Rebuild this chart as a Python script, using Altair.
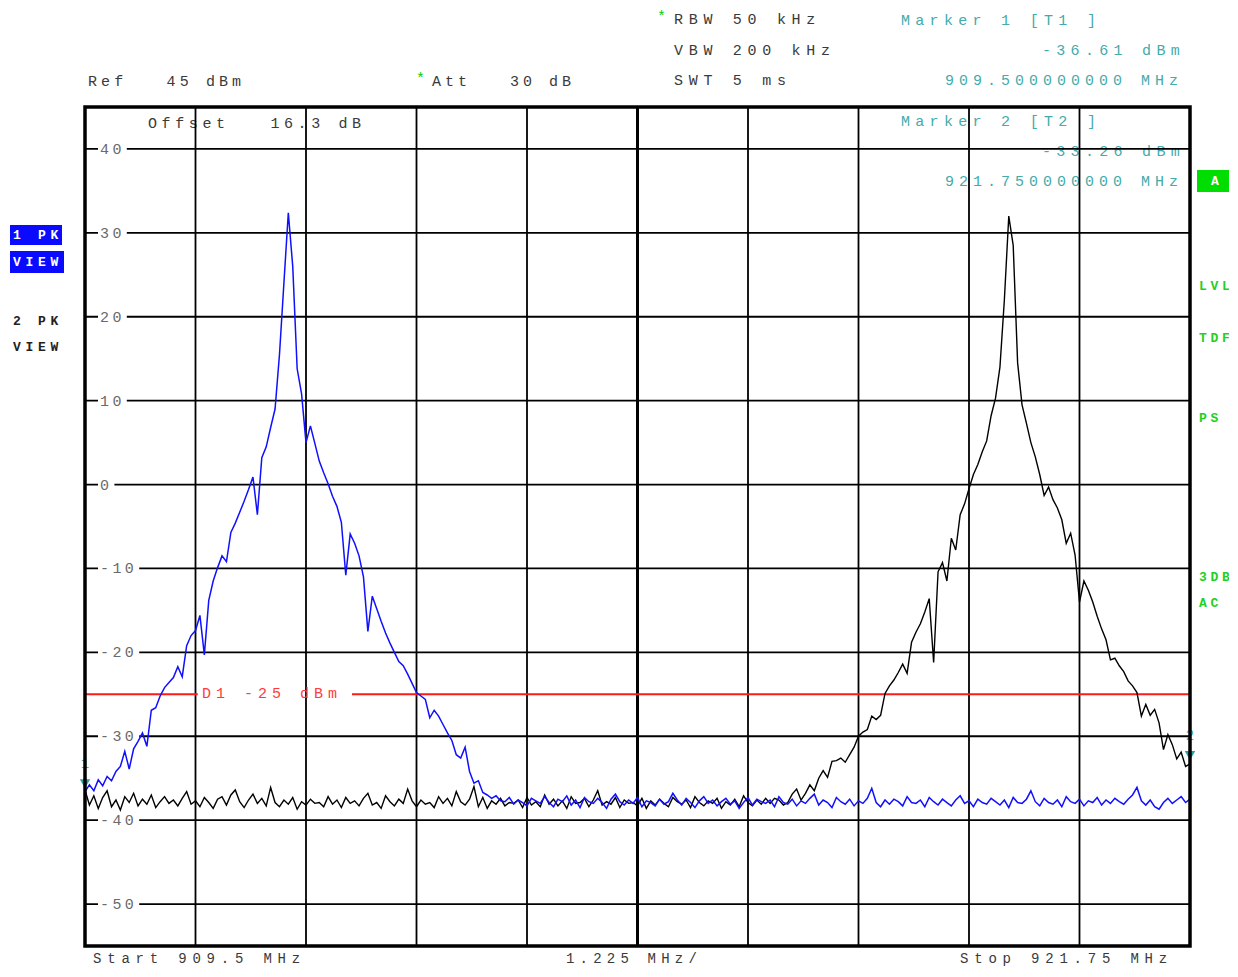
import altair as alt
import pandas as pd

# ---------------- data ----------------
F_START = 909.5
F_STOP = 921.75
F_DIV = 1.225
REF_DBM = 45
BOTTOM_DBM = -55
DISPLAY_LINE = -25

# trace 1 (blue), 251 sweep points, dBm
blue_db = [
    -36.6, -35.8, -36.5, -35.2, -35.9, -34.8, -35.3, -34.2, -33.6, -31.8,
    -33.9, -31.5, -30.6, -29.6, -31.2, -26.9, -26.6, -25.2, -24.2, -23.6,
    -23.0, -21.7, -22.9, -19.2, -18.0, -17.4, -15.6, -20.3, -13.8, -11.5,
    -9.9, -8.5, -9.2, -5.7, -4.6, -3.3, -2.0, -0.6, 0.9, -3.6,
    3.2, 4.5, 6.8, 9.0, 15.5, 24.0, 32.4, 26.0, 13.8, 10.8,
    5.0, 7.0, 4.9, 2.8, 1.4, 0.1, -1.4, -2.6, -4.5, -10.8,
    -5.9, -7.0, -8.5, -11.0, -17.5, -13.3, -14.8, -16.3, -17.7, -18.9,
    -20.0, -21.1, -21.6, -22.6, -23.7, -24.8, -25.2, -25.6, -27.8, -26.9,
    -27.6, -28.6, -29.6, -30.5, -32.2, -32.6, -31.3, -34.2, -35.6, -35.3,
    -36.7, -37.0, -37.4, -37.1, -37.7,
    -37.8, -37.3, -38.1, -37.6, -37.9, -38.3, -37.4, -37.7, -38.0, -37.2,
    -37.9, -38.4, -37.5, -37.8, -37.1, -38.2, -37.6, -38.5, -37.3, -37.8,
    -38.0, -37.4, -37.9, -38.6, -37.5, -36.9, -37.8, -38.2, -37.6, -38.0,
    -37.3, -38.4, -37.7, -37.9, -38.3, -37.5, -38.1, -37.8, -36.8, -37.6,
    -38.2, -37.4, -37.9, -38.5, -37.7, -37.2, -38.0, -37.6, -38.3, -37.8,
    -37.4, -38.1, -37.7, -38.6, -37.9, -37.3, -38.2, -37.5, -37.8, -38.0,
    -37.6, -38.4, -37.2, -37.9, -38.1, -37.5, -38.3, -37.7, -38.0, -37.4,
    -36.9, -38.2, -37.6, -37.9, -38.5, -37.3, -37.8, -38.1, -37.5, -38.3,
    -37.7, -38.0, -37.4, -36.2, -37.9, -38.4, -37.6, -38.1, -37.5, -37.8,
    -38.3, -37.2, -37.9, -38.0, -37.6, -38.4, -37.3, -37.8, -38.2, -37.5,
    -37.9, -38.3, -37.6, -37.1, -38.0, -37.7, -38.4, -37.5, -37.9, -38.1,
    -37.4, -37.8, -38.2, -37.6, -38.5, -37.3, -37.9, -38.0, -37.5, -36.5,
    -37.8, -38.3, -37.4, -37.9, -38.1, -37.6, -38.4, -37.2, -37.8, -38.0,
    -37.5, -38.3, -37.7, -37.9, -37.3, -38.2, -37.6, -38.0, -37.4, -37.8,
    -38.1, -37.5, -37.0, -36.1, -37.7, -38.2, -37.6, -38.4, -38.7, -37.9,
    -37.4, -38.0, -37.6, -37.2, -37.9, -37.5,
]

# trace 2 (black), 251 sweep points, dBm
black_db = [
    -36.4, -38.2, -37.1, -38.6, -37.3, -36.5, -38.4, -37.6, -38.8, -37.2,
    -37.9, -36.8, -38.3, -37.5, -38.1, -37.0, -38.5, -37.8, -37.2, -38.0,
    -37.6, -38.3, -37.4, -36.6, -38.1, -37.7, -38.4, -37.3, -37.9, -38.6,
    -37.5, -37.2, -38.2, -37.0, -36.4, -37.8, -38.5, -37.6, -36.9, -38.0,
    -37.4, -38.3, -36.1, -37.9, -38.4, -37.6, -38.1, -37.3, -38.7, -37.8,
    -38.2, -37.5, -38.0, -37.9, -38.4, -37.2, -38.1, -37.6, -38.5, -37.3,
    -38.0, -37.7, -38.3, -37.4, -36.8, -38.2, -37.9, -38.6, -37.1, -37.8,
    -38.3, -37.5, -38.0, -36.3, -37.7, -38.4, -37.6, -38.1, -37.9, -38.5,
    -37.2, -38.0, -37.4, -38.3, -36.6, -37.8, -38.2, -37.5, -36.0, -38.4,
    -37.3, -38.6, -37.7, -38.1, -37.4, -38.3, -37.9, -38.0, -37.6, -38.5,
    -37.3, -38.2, -37.8, -38.4, -37.0, -38.1, -37.5, -38.3, -37.7, -38.6,
    -37.2, -38.0, -37.9, -37.4, -38.4, -37.6, -36.5, -38.2, -37.8, -38.1,
    -37.3, -38.5, -37.6, -38.0, -37.9, -38.3, -37.4, -38.6, -37.7, -38.2,
    -37.5, -38.0, -38.4, -37.3, -37.8, -38.1, -37.6, -38.5, -37.2, -37.9,
    -38.3, -37.7, -38.0, -37.4, -38.6, -37.8, -38.2, -37.5, -38.4, -37.1,
    -37.9, -38.3, -37.6, -38.1, -37.4,
    -38.0, -37.4, -37.6, -38.2, -37.9, -36.9, -36.3, -37.6, -36.8, -35.8,
    -36.5, -35.0, -34.1, -34.9, -33.0, -32.9, -32.6, -33.1, -32.2, -31.3,
    -30.0, -29.5, -29.2, -27.6, -28.0, -27.5, -24.9, -24.0, -23.3, -22.4,
    -21.4, -22.5, -18.8, -17.6, -16.6, -15.2, -13.6, -21.2, -10.4, -9.3,
    -11.5, -6.4, -7.8, -3.6, -2.3, -0.5, 1.2, 2.4, 3.9, 5.2,
    8.2, 10.3, 14.0, 22.0, 32.0, 28.5, 14.5, 9.5, 7.3, 5.0,
    3.3, 1.2, -1.3, -0.3, -1.8, -2.8, -4.2, -7.0, -5.8, -8.4,
    -14.0, -11.5, -12.6, -14.0, -15.7, -17.2, -18.5, -20.9, -20.7, -21.6,
    -22.3, -23.4, -24.0, -24.8, -27.6, -26.2, -27.5, -26.8, -28.4, -31.6,
    -29.8, -31.0, -32.7, -31.9, -33.6, -33.3,
]

y_tick_values = [40, 30, 20, 10, 0, -10, -20, -30, -40, -50]
marker_freqs = [909.5, 921.75]
marker_levels = [-36.61, -33.26]
marker_names = ["1", "2"]

# ---------------- layout ----------------
PLOT_W, PLOT_H = 1105, 839
X0, Y0 = 85, 107          # page position of the plot area
MONO = "Liberation Mono"

n = len(blue_db)
step = (F_STOP - F_START) / (n - 1)
freqs = [F_START + i * step for i in range(n)]

xs = alt.Scale(domain=[F_START, F_STOP], nice=False, zero=False)
ys = alt.Scale(domain=[BOTTOM_DBM, REF_DBM], nice=False, zero=False)

def fx(field):
    return alt.X(field, type="quantitative", scale=xs, axis=None)

def fy(field):
    return alt.Y(field, type="quantitative", scale=ys, axis=None)

def char_rows(text, x, y, pitch, color):
    return [{"px": x - X0 + i * pitch, "py": y - Y0, "ch": c, "col": color}
            for i, c in enumerate(text) if c != " "]

def text_layer(rows, size, weight="normal"):
    return alt.Chart(pd.DataFrame(rows)).mark_text(
        align="left", baseline="middle", font=MONO, fontSize=size, fontWeight=weight
    ).encode(
        x=alt.X("px:Q", scale=None, axis=None),
        y=alt.Y("py:Q", scale=None, axis=None),
        text="ch:N",
        color=alt.Color("col:N", scale=None, legend=None),
    )

def box_layer(boxes):
    df = pd.DataFrame([{"x1": a - X0, "x2": b - X0, "y1": c - Y0, "y2": d - Y0, "col": col}
                       for a, b, c, d, col in boxes])
    return alt.Chart(df).mark_rect().encode(
        x=alt.X("x1:Q", scale=None, axis=None), x2="x2:Q",
        y=alt.Y("y1:Q", scale=None, axis=None), y2="y2:Q",
        color=alt.Color("col:N", scale=None, legend=None),
    )

GRAY = "#3a3a3a"
TEAL = "#44abab"
GREEN = "#22d022"
RED = "#ff3a3a"

# texts lying under the grid (inside the plot)
under_rows = []
under_rows += char_rows("Offset   16.3 dB", 148, 123, 13.6, GRAY)
under_rows += char_rows("Marker 2 [T2 ]", 901, 121, 14.3, TEAL)
under_rows += char_rows("-33.26 dBm", 1042, 151, 14.3, TEAL)
under_rows += char_rows("921.750000000 MHz", 945, 181, 14.0, TEAL)
under_text = text_layer(under_rows, 15)

# grid
grid_v = pd.DataFrame({"f": [F_START + k * F_DIV for k in range(11)]})
grid_h = pd.DataFrame({"v": y_tick_values})
vlines = alt.Chart(grid_v).mark_rule(color="black", strokeWidth=1.8).encode(x=fx("f"))
center = alt.Chart(pd.DataFrame({"f": [F_START + 5 * F_DIV]})).mark_rule(
    color="black", strokeWidth=3).encode(x=fx("f"))
hlines = alt.Chart(grid_h).mark_rule(color="black", strokeWidth=1.8).encode(y=fy("v"))

# y tick labels with white background cut into the grid lines
lab_df = pd.DataFrame({
    "v": y_tick_values,
    "txt": [str(v) for v in y_tick_values],
})
lab_df["hi"] = lab_df["v"] + 0.85
lab_df["lo"] = lab_df["v"] - 0.85
lab_df["bx1"] = 98 - X0
lab_df["bx2"] = [100 - X0 + len(t) * 12.4 + 2 for t in lab_df["txt"]]
lab_bg = alt.Chart(lab_df).mark_rect(color="white").encode(
    x=alt.X("bx1:Q", scale=None, axis=None), x2="bx2:Q",
    y=fy("hi"), y2="lo:Q",
)
lab_chars = []
for v, t in zip(y_tick_values, lab_df["txt"]):
    for i, c in enumerate(t):
        lab_chars.append({"px": 100 - X0 + i * 12.4, "v": v, "ch": c})
lab_text = alt.Chart(pd.DataFrame(lab_chars)).mark_text(
    align="left", baseline="middle", font=MONO, fontSize=15, color="#6a6a6a"
).encode(x=alt.X("px:Q", scale=None, axis=None), y=fy("v"), text="ch:N")

# display line D1 (interrupted by its label)
dl_df = pd.DataFrame({"f1": [F_START, 912.46], "f2": [910.75, F_STOP], "v": [DISPLAY_LINE] * 2})
dline = alt.Chart(dl_df).mark_rule(color="#ff1a1a", strokeWidth=2).encode(
    x=fx("f1"), x2="f2:Q", y=fy("v"))
dtext = text_layer(char_rows("D1 -25 dBm", 202, 693, 14.0, RED), 15)

# traces
tr_df = pd.DataFrame({"f": freqs, "blue": blue_db, "black": black_db})
blue_line = alt.Chart(tr_df).mark_line(color="#1010ff", strokeWidth=1.5).encode(
    x=fx("f"), y=fy("blue"))
black_line = alt.Chart(tr_df).mark_line(color="#000000", strokeWidth=1.4).encode(
    x=fx("f"), y=fy("black"))

# markers
mk_df = pd.DataFrame({"f": marker_freqs, "v": marker_levels, "name": marker_names})
mk_pts = alt.Chart(mk_df).mark_point(
    shape="triangle-down", filled=True, size=110, color="#2aa3a3", opacity=1, yOffset=-8
).encode(x=fx("f"), y=fy("v"))
mk_txt = alt.Chart(mk_df).mark_text(
    font=MONO, fontSize=14, color=TEAL, yOffset=-28
).encode(x=fx("f"), y=fy("v"), text="name:N")

# frame
frame = alt.Chart(pd.DataFrame({"a": [0]})).mark_rect(
    fillOpacity=0, stroke="black", strokeWidth=3.5
).encode(x=alt.value(0), x2=alt.value(PLOT_W), y=alt.value(0), y2=alt.value(PLOT_H))

# boxes outside the plot
boxes = box_layer([
    (10, 62, 225, 245, "#0a0aff"),
    (10, 64, 251, 273, "#0a0aff"),
    (1197, 1234, 170, 192, "#00dd00"),
])

# outside texts
reg_rows = []
reg_rows += char_rows("Ref   45 dBm", 88, 81, 13.1, GRAY)
reg_rows += char_rows("Att   30 dB", 432, 81, 13.0, GRAY)
reg_rows += char_rows("RBW 50 kHz", 674, 19, 14.7, GRAY)
reg_rows += char_rows("VBW 200 kHz", 674, 50, 14.7, GRAY)
reg_rows += char_rows("SWT 5 ms", 674, 80, 14.7, GRAY)
reg_rows += char_rows("*", 657, 16, 10, "#00cc00")
reg_rows += char_rows("*", 416, 78, 10, "#00cc00")
reg_rows += char_rows("Marker 1 [T1 ]", 901, 20, 14.3, TEAL)
reg_rows += char_rows("-36.61 dBm", 1042, 50, 14.3, TEAL)
reg_rows += char_rows("909.500000000 MHz", 945, 80, 14.0, TEAL)
reg_text = text_layer(reg_rows, 15)

bottom_rows = []
bottom_rows += char_rows("Start 909.5 MHz", 93, 959, 14.2, GRAY)
bottom_rows += char_rows("1.225 MHz/", 566, 959, 13.6, GRAY)
bottom_rows += char_rows("Stop 921.75 MHz", 960, 959, 14.2, GRAY)
bottom_text = text_layer(bottom_rows, 14)

bold_rows = []
bold_rows += char_rows("1 PK", 13, 235, 12.5, "white")
bold_rows += char_rows("VIEW", 13, 262, 12.5, "white")
bold_rows += char_rows("2 PK", 13, 321, 12.5, "#222222")
bold_rows += char_rows("VIEW", 13, 347, 12.5, "#222222")
bold_rows += char_rows("A", 1211, 181, 12, "white")
bold_rows += char_rows("LVL", 1199, 286, 11.5, GREEN)
bold_rows += char_rows("TDF", 1199, 338, 11.5, GREEN)
bold_rows += char_rows("PS", 1199, 418, 11.5, GREEN)
bold_rows += char_rows("3DB", 1199, 577, 11.5, GREEN)
bold_rows += char_rows("AC", 1199, 603, 11.5, GREEN)
bold_text = text_layer(bold_rows, 13, "bold")

chart = alt.layer(
    under_text, vlines, hlines, center, lab_bg, lab_text, dline, dtext,
    black_line, blue_line, mk_pts, mk_txt, frame, boxes, reg_text, bottom_text, bold_text,
).resolve_scale(
    x="independent", y="independent", color="independent"
).properties(
    width=PLOT_W, height=PLOT_H,
    autosize=alt.AutoSizeParams(type="none"),
    padding={"left": X0 - 8, "top": Y0 - 8, "right": 39, "bottom": 23},
    background="white",
).configure_view(stroke=None)

chart.save("out.html", embed_options={"renderer": "svg", "actions": False})
